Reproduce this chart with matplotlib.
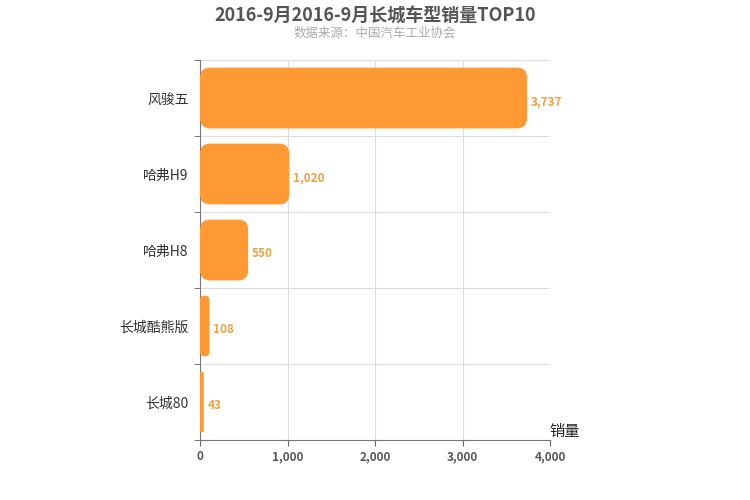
import matplotlib
matplotlib.use("Agg")
import matplotlib.pyplot as plt
from matplotlib.patches import FancyBboxPatch

plt.rcParams['font.family'] = ['Noto Sans CJK SC', 'DejaVu Sans']

categories = ["风骏五", "哈弗H9", "哈弗H8", "长城酷熊版", "长城80"]
values = [3737, 1020, 550, 108, 43]
xticks = [0, 1000, 2000, 3000, 4000]

fig = plt.figure(figsize=(7.5, 5), dpi=100)
ax = fig.add_axes([200/750, 60/500, 350/750, 380/500])
n = len(categories)
ypos = list(range(n))
bars = ax.barh(ypos, values, height=0.8, color='none')
ax.set_xlim(0, 4000)
ax.set_ylim(n - 0.5, -0.5)
xunit = 4000/350
yunit = n/380
for b, v in zip(bars, values):
    x0, y0, w, h = b.get_x(), b.get_y(), b.get_width(), b.get_height()
    r = min(10*xunit, w/2)
    p = FancyBboxPatch((x0, y0), w, h, boxstyle=f"round,pad=0,rounding_size={r}",
                       mutation_aspect=yunit/xunit, facecolor='#FF9933', edgecolor='none', zorder=3)
    ax.add_patch(p)
    b.remove()
    ax.text(v + 45, y0 + h/2 + 0.05, f"{v:,}", color='#F0A040', fontsize=8.5,
            fontweight='bold', va='center', ha='left', zorder=4)

ax.set_yticks(ypos)
ax.set_yticklabels(categories, fontsize=10, color='#333333')
ax.set_xticks(xticks)
ax.set_xticklabels([f"{t:,}" for t in xticks], fontsize=8.5, color='#555555', fontweight='bold')
ax.set_yticks([i - 0.5 for i in range(n + 1)], minor=True)
ax.tick_params(axis='y', which='major', length=0, pad=8)
ax.tick_params(axis='y', which='minor', length=4, color='#666666')
ax.tick_params(axis='x', length=4, color='#666666')
ax.grid(True, which='minor', axis='y', color='#dddddd', lw=0.8)
ax.grid(True, which='major', axis='x', color='#dddddd', lw=0.8)
ax.set_axisbelow(True)
for s in ['top', 'right']:
    ax.spines[s].set_visible(False)
ax.spines['left'].set_color('#777777')
ax.spines['bottom'].set_color('#777777')
ax.text(4170, n - 0.5, "销量", fontsize=11, ha='center', va='bottom', color='#222222')

fig.text(0.5, 0.967, "2016-9月2016-9月长城车型销量TOP10", ha='center', va='center',
         fontsize=13, fontweight='bold', color='#555555')
fig.text(0.5, 0.933, "数据来源：中国汽车工业协会", ha='center', va='center',
         fontsize=9, color='#aaaaaa')
fig.savefig("out.png", dpi=100, facecolor='white')
